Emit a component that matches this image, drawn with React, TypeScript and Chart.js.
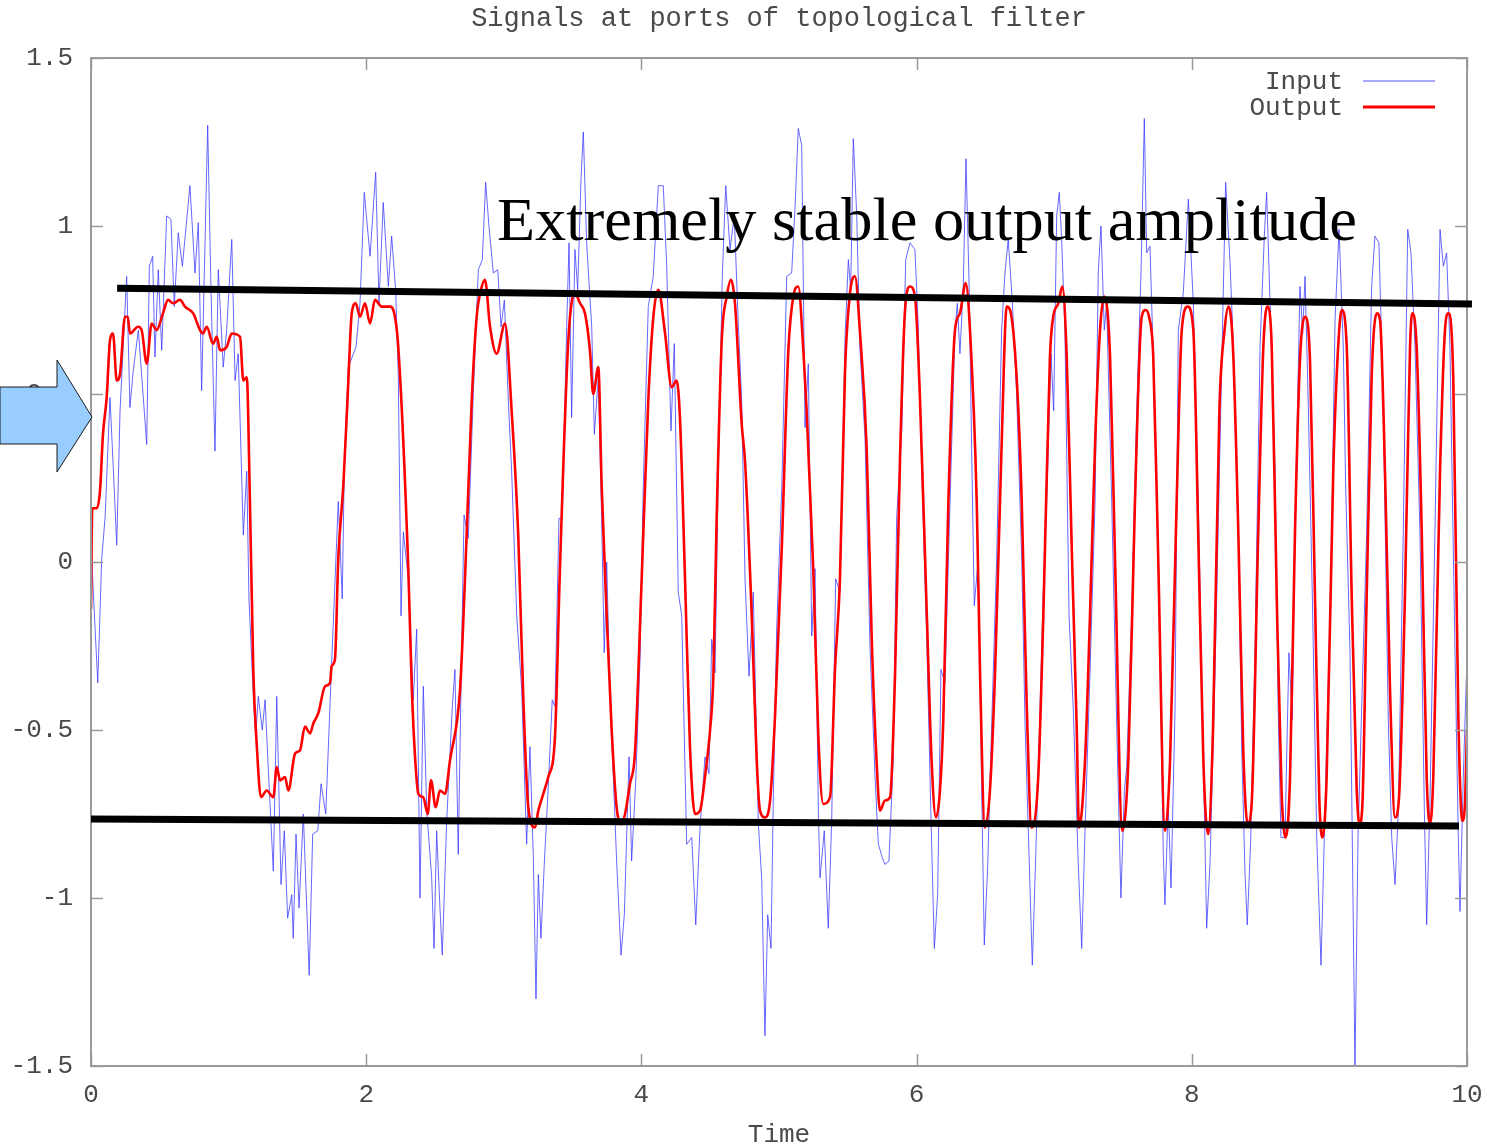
import React, { useEffect, useRef } from "react";
import { Chart, registerables } from "chart.js";

Chart.register(...registerables);

const W = 1487;
const H = 1147;

const chartTitle = "Signals at ports of topological filter";
const xAxisTitle = "Time";
const annotationText = "Extremely stable output amplitude";
const seriesLabels = ["Input", "Output"];
const xTicks = [0, 2, 4, 6, 8, 10];
const yTicks = [-1.5, -1, -0.5, 0, 0.5, 1, 1.5];

// [time, value]
const outputSignal: [number, number][] = [
  [0.000,-0.14],[0.009,0.16],[0.041,0.16],[0.065,0.21],[0.087,0.38],[0.114,0.49],[0.138,0.66],[0.160,0.68],[0.187,0.54],[0.211,0.56],
  [0.247,0.73],[0.267,0.73],[0.283,0.68],[0.342,0.70],[0.368,0.69],[0.405,0.59],[0.441,0.71],[0.477,0.69],[0.523,0.74],[0.560,0.78],
  [0.596,0.77],[0.647,0.78],[0.683,0.76],[0.743,0.74],[0.792,0.69],[0.814,0.68],[0.841,0.70],[0.887,0.65],[0.914,0.67],[0.938,0.63],
  [0.986,0.64],[1.023,0.68],[1.083,0.67],[1.107,0.54],[1.132,0.55],[1.155,0.18],[1.180,-0.33],[1.204,-0.54],[1.235,-0.70],[1.277,-0.68],
  [1.325,-0.70],[1.350,-0.61],[1.374,-0.65],[1.410,-0.64],[1.434,-0.68],[1.483,-0.57],[1.519,-0.56],[1.555,-0.49],[1.592,-0.51],[1.616,-0.48],
  [1.652,-0.45],[1.701,-0.37],[1.737,-0.36],[1.749,-0.31],[1.773,-0.29],[1.797,0.01],[1.834,0.23],[1.866,0.50],[1.895,0.74],[1.924,0.77],
  [1.955,0.73],[1.991,0.77],[2.028,0.71],[2.064,0.78],[2.113,0.76],[2.173,0.76],[2.197,0.75],[2.233,0.64],[2.306,-0.02],[2.331,-0.37],
  [2.355,-0.58],[2.379,-0.69],[2.415,-0.70],[2.447,-0.75],[2.471,-0.65],[2.505,-0.73],[2.536,-0.68],[2.573,-0.69],[2.609,-0.59],[2.682,-0.38],
  [2.718,-0.05],[2.767,0.48],[2.803,0.73],[2.834,0.81],[2.863,0.84],[2.900,0.70],[2.948,0.62],[3.009,0.71],[3.057,0.45],[3.105,0.08],
  [3.142,-0.41],[3.178,-0.73],[3.227,-0.79],[3.251,-0.74],[3.287,-0.69],[3.323,-0.64],[3.372,-0.52],[3.408,-0.02],[3.469,0.66],[3.517,0.80],
  [3.554,0.77],[3.590,0.74],[3.626,0.63],[3.650,0.50],[3.687,0.58],[3.711,0.23],[3.748,-0.16],[3.784,-0.50],[3.820,-0.73],[3.857,-0.78],
  [3.881,-0.75],[3.917,-0.66],[3.953,-0.57],[4.002,-0.05],[4.050,0.48],[4.087,0.73],[4.123,0.81],[4.172,0.68],[4.220,0.52],[4.256,0.54],
  [4.280,0.43],[4.317,-0.05],[4.353,-0.55],[4.390,-0.75],[4.426,-0.74],[4.462,-0.64],[4.499,-0.50],[4.523,-0.34],[4.547,0.13],[4.584,0.66],
  [4.620,0.79],[4.651,0.84],[4.680,0.77],[4.729,0.41],[4.753,0.30],[4.802,-0.16],[4.838,-0.59],[4.862,-0.74],[4.898,-0.76],[4.935,-0.71],
  [4.971,-0.46],[5.020,0.04],[5.068,0.63],[5.104,0.79],[5.140,0.82],[5.177,0.63],[5.201,0.45],[5.249,-0.02],[5.286,-0.52],[5.322,-0.72],
  [5.371,-0.70],[5.407,-0.32],[5.443,-0.05],[5.480,0.57],[5.516,0.80],[5.552,0.85],[5.589,0.68],[5.637,0.34],[5.674,-0.23],[5.710,-0.60],
  [5.734,-0.74],[5.770,-0.71],[5.807,-0.70],[5.843,-0.34],[5.879,0.30],[5.916,0.75],[5.952,0.82],[5.988,0.79],[6.025,0.48],[6.073,-0.14],
  [6.110,-0.60],[6.141,-0.76],[6.170,-0.68],[6.194,-0.47],[6.231,0.18],[6.279,0.69],[6.315,0.74],[6.357,0.83],[6.388,0.69],[6.437,0.18],
  [6.461,-0.33],[6.497,-0.79],[6.533,-0.68],[6.570,-0.33],[6.618,0.35],[6.655,0.76],[6.679,0.75],[6.727,0.55],[6.764,0.18],[6.800,-0.42],
  [6.836,-0.79],[6.884,-0.64],[6.921,-0.16],[6.969,0.61],[6.993,0.73],[7.030,0.77],[7.059,0.82],[7.091,0.61],[7.127,0.05],[7.164,-0.50],
  [7.180,-0.79],[7.224,-0.59],[7.260,-0.16],[7.297,0.35],[7.333,0.69],[7.364,0.79],[7.406,0.61],[7.442,0.01],[7.495,-0.80],[7.539,-0.59],
  [7.587,0.18],[7.636,0.73],[7.665,0.75],[7.689,0.73],[7.720,0.61],[7.756,0.01],[7.805,-0.80],[7.842,-0.59],[7.890,0.18],[7.927,0.69],
  [7.970,0.76],[8.011,0.69],[8.047,0.08],[8.084,-0.59],[8.118,-0.81],[8.154,-0.50],[8.201,0.46],[8.238,0.69],[8.266,0.76],[8.299,0.64],
  [8.338,0.09],[8.374,-0.56],[8.406,-0.78],[8.435,-0.72],[8.483,0.09],[8.520,0.64],[8.549,0.76],[8.581,0.64],[8.617,-0.10],[8.653,-0.69],
  [8.682,-0.82],[8.714,-0.64],[8.750,0.09],[8.786,0.60],[8.823,0.73],[8.859,0.60],[8.895,-0.10],[8.927,-0.71],[8.949,-0.82],[8.980,-0.64],
  [9.028,0.27],[9.065,0.65],[9.090,0.75],[9.126,0.64],[9.162,-0.10],[9.198,-0.67],[9.219,-0.78],[9.240,-0.72],[9.271,-0.10],[9.307,0.55],
  [9.344,0.74],[9.368,0.72],[9.404,0.27],[9.440,-0.37],[9.477,-0.76],[9.506,-0.70],[9.549,-0.10],[9.586,0.64],[9.602,0.74],[9.634,0.64],
  [9.671,0.09],[9.707,-0.64],[9.731,-0.78],[9.755,-0.64],[9.804,0.27],[9.840,0.69],[9.864,0.74],[9.900,0.55],[9.937,-0.46],[9.966,-0.77],
  [9.985,-0.72],[10.000,-0.50],
];

// [time, value]
const inputSignal: [number, number][] = [
  [0.005,0.01],[0.049,-0.36],[0.078,0.01],[0.102,0.13],[0.138,0.49],[0.162,0.28],[0.187,0.05],[0.211,0.45],[0.259,0.85],[0.283,0.46],
  [0.307,0.57],[0.344,0.69],[0.405,0.35],[0.424,0.88],[0.448,0.91],[0.465,0.61],[0.489,0.87],[0.514,0.63],[0.550,1.03],[0.581,1.02],
  [0.605,0.76],[0.634,0.98],[0.664,0.88],[0.719,1.12],[0.756,0.86],[0.780,1.01],[0.804,0.51],[0.848,1.30],[0.872,0.81],[0.901,0.33],
  [0.925,0.87],[0.961,0.58],[0.986,0.69],[1.023,0.96],[1.047,0.54],[1.070,0.62],[1.107,0.08],[1.132,0.27],[1.148,-0.11],[1.180,-0.40],
  [1.197,-0.52],[1.216,-0.40],[1.245,-0.50],[1.265,-0.41],[1.289,-0.62],[1.325,-0.92],[1.350,-0.40],[1.381,-0.96],[1.405,-0.80],[1.429,-1.06],
  [1.459,-0.99],[1.470,-1.12],[1.490,-0.81],[1.512,-1.03],[1.543,-0.75],[1.586,-1.23],[1.611,-0.81],[1.648,-0.80],[1.672,-0.66],[1.706,-0.75],
  [1.749,-0.30],[1.797,0.18],[1.826,-0.11],[1.841,0.29],[1.870,0.58],[1.926,0.64],[1.955,0.77],[1.986,1.10],[2.028,0.91],[2.069,1.16],
  [2.093,0.77],[2.124,1.07],[2.161,0.82],[2.185,0.97],[2.214,0.81],[2.233,0.56],[2.246,0.11],[2.253,-0.16],[2.270,0.09],[2.306,-0.05],
  [2.342,-0.41],[2.367,-0.20],[2.391,-1.00],[2.415,-0.37],[2.440,-0.74],[2.476,-0.94],[2.493,-1.15],[2.512,-0.80],[2.536,-1.03],[2.553,-1.17],
  [2.585,-0.77],[2.626,-0.43],[2.645,-0.32],[2.669,-0.87],[2.694,-0.25],[2.711,0.14],[2.742,0.07],[2.778,0.50],[2.815,0.87],[2.844,0.90],
  [2.868,1.13],[2.892,1.00],[2.924,0.86],[2.956,0.87],[2.980,0.70],[3.004,0.78],[3.033,0.48],[3.057,0.27],[3.094,-0.16],[3.130,-0.38],
  [3.166,-0.84],[3.190,-0.55],[3.214,-0.87],[3.234,-1.30],[3.251,-0.93],[3.270,-1.12],[3.294,-0.90],[3.323,-0.67],[3.352,-0.41],[3.372,-0.43],
  [3.401,0.13],[3.425,0.13],[3.457,0.70],[3.474,0.95],[3.493,0.43],[3.517,0.93],[3.537,0.81],[3.561,1.14],[3.578,1.28],[3.602,0.95],
  [3.639,0.70],[3.658,0.38],[3.687,0.55],[3.711,0.13],[3.730,-0.27],[3.748,0.00],[3.772,-0.41],[3.796,-0.64],[3.820,-0.89],[3.852,-1.17],
  [3.876,-1.05],[3.910,-0.58],[3.929,-0.89],[3.959,-0.65],[3.990,-0.29],[4.014,0.23],[4.050,0.76],[4.086,0.85],[4.123,1.12],[4.159,1.12],
  [4.184,0.88],[4.215,0.39],[4.239,0.65],[4.268,-0.09],[4.293,-0.16],[4.329,-0.84],[4.366,-0.82],[4.395,-1.08],[4.426,-0.79],[4.462,-0.58],
  [4.491,-0.63],[4.511,-0.23],[4.535,-0.33],[4.559,0.27],[4.588,0.85],[4.613,1.12],[4.644,0.93],[4.675,1.03],[4.704,0.71],[4.729,0.48],
  [4.753,-0.05],[4.782,-0.34],[4.813,-0.09],[4.850,-0.78],[4.874,-0.94],[4.898,-1.41],[4.918,-1.05],[4.942,-1.15],[4.959,-0.69],[4.983,-0.20],
  [5.020,0.22],[5.056,0.85],[5.092,0.86],[5.116,1.05],[5.140,1.29],[5.165,1.24],[5.189,0.40],[5.213,0.59],[5.238,-0.22],[5.262,-0.02],
  [5.286,-0.74],[5.298,-0.94],[5.329,-0.80],[5.358,-1.09],[5.383,-0.77],[5.412,-0.05],[5.443,-0.09],[5.480,0.67],[5.504,0.90],[5.521,0.81],
  [5.540,1.26],[5.565,1.03],[5.589,0.63],[5.625,0.37],[5.661,-0.25],[5.698,-0.64],[5.722,-0.84],[5.751,-0.88],[5.770,-0.90],[5.799,-0.89],
  [5.831,-0.58],[5.855,0.13],[5.892,0.39],[5.921,0.90],[5.952,0.95],[5.988,0.93],[6.012,0.70],[6.037,0.28],[6.073,-0.22],[6.110,-0.85],
  [6.129,-1.15],[6.153,-0.99],[6.177,-0.32],[6.206,-0.36],[6.243,0.18],[6.279,0.69],[6.296,0.77],[6.315,0.62],[6.339,0.82],[6.359,1.20],
  [6.383,0.80],[6.400,0.34],[6.419,-0.13],[6.448,0.01],[6.473,-0.68],[6.492,-1.14],[6.517,-0.90],[6.546,-0.48],[6.582,0.01],[6.618,0.69],
  [6.642,0.86],[6.666,0.96],[6.695,0.78],[6.727,0.50],[6.764,0.01],[6.788,-0.48],[6.817,-0.87],[6.841,-1.20],[6.866,-0.87],[6.897,-0.44],
  [6.921,-0.08],[6.945,0.18],[6.977,0.62],[6.996,0.45],[7.018,1.03],[7.037,1.10],[7.054,0.96],[7.078,0.69],[7.108,-0.16],[7.139,-0.44],
  [7.175,-0.90],[7.200,-1.15],[7.224,-0.80],[7.260,-0.33],[7.297,0.18],[7.320,0.86],[7.340,1.00],[7.364,0.69],[7.381,0.77],[7.418,0.18],
  [7.454,-0.48],[7.485,-1.00],[7.510,-0.68],[7.527,-0.61],[7.563,-0.16],[7.599,0.44],[7.631,0.86],[7.655,1.32],[7.672,0.92],[7.696,0.94],
  [7.720,0.61],[7.756,0.01],[7.793,-0.87],[7.805,-1.02],[7.829,-0.72],[7.849,-0.97],[7.878,-0.44],[7.902,0.69],[7.938,0.80],[7.975,1.08],
  [8.011,0.77],[8.047,0.18],[8.084,-0.59],[8.108,-1.09],[8.132,-0.90],[8.169,-0.33],[8.205,0.35],[8.246,1.13],[8.278,0.89],[8.302,0.64],
  [8.338,0.09],[8.363,-0.56],[8.387,-0.93],[8.403,-1.08],[8.428,-0.83],[8.459,-0.27],[8.496,0.64],[8.527,0.97],[8.544,1.10],[8.568,0.78],
  [8.605,0.27],[8.629,-0.47],[8.648,-0.82],[8.677,-0.82],[8.706,-0.27],[8.730,-0.47],[8.750,0.09],[8.786,0.82],[8.806,0.68],[8.823,0.85],
  [8.847,0.46],[8.876,-0.10],[8.908,-0.82],[8.939,-1.20],[8.963,-0.82],[8.997,-0.27],[9.017,0.09],[9.041,0.72],[9.070,0.99],[9.101,0.64],
  [9.118,0.23],[9.150,-0.27],[9.186,-1.50],[9.208,-0.82],[9.239,-0.37],[9.271,0.09],[9.307,0.82],[9.331,0.97],[9.360,0.95],[9.392,0.46],
  [9.428,-0.47],[9.453,-0.82],[9.477,-0.96],[9.501,-0.74],[9.537,0.09],[9.569,0.99],[9.593,0.92],[9.622,0.64],[9.658,0.09],[9.690,-0.74],
  [9.707,-1.08],[9.731,-0.71],[9.767,0.09],[9.804,0.99],[9.828,0.88],[9.852,0.92],[9.876,0.64],[9.913,-0.27],[9.937,-0.82],[9.949,-1.04],
  [9.973,-0.64],[9.998,-0.31],
];

// hand-drawn envelope lines, [time, value] end points
const upperEnvelope: [number, number][] = [[0.19, 0.815], [10.036, 0.768]];
const lowerEnvelope: [number, number][] = [[0.0, -0.765], [9.942, -0.786]];

const MONO = "'Liberation Mono', 'DejaVu Sans Mono', monospace";
const SERIF = "'Liberation Serif', 'DejaVu Serif', serif";
const TEXT_COLOR = "#4a4a4a";
const FRAME_COLOR = "#9a9a9a";
const INPUT_COLOR = "rgba(60,60,255,0.78)";
const OUTPUT_COLOR = "#ff0000";

const overlayPlugin = {
  id: "overlay",
  afterDraw(chart: any) {
    const { ctx, chartArea: a, scales } = chart;
    const xs = scales.x;
    const ys = scales.y;
    ctx.save();

    // frame
    ctx.strokeStyle = FRAME_COLOR;
    ctx.lineWidth = 2;
    ctx.strokeRect(a.left, a.top, a.right - a.left, a.bottom - a.top);

    // inward ticks on all sides (gnuplot style)
    ctx.lineWidth = 1.5;
    const tl = 12;
    ctx.beginPath();
    for (const t of xTicks) {
      const px = Math.round(xs.getPixelForValue(t)) + 0.5;
      ctx.moveTo(px, a.bottom);
      ctx.lineTo(px, a.bottom - tl);
      ctx.moveTo(px, a.top);
      ctx.lineTo(px, a.top + tl);
    }
    for (const v of yTicks) {
      const py = Math.round(ys.getPixelForValue(v)) + 0.5;
      ctx.moveTo(a.left, py);
      ctx.lineTo(a.left + tl, py);
      ctx.moveTo(a.right, py);
      ctx.lineTo(a.right - tl, py);
    }
    ctx.stroke();

    // title and x-axis title
    const cx = (a.left + a.right) / 2;
    ctx.fillStyle = TEXT_COLOR;
    ctx.textAlign = "center";
    ctx.textBaseline = "middle";
    ctx.font = `27px ${MONO}`;
    ctx.fillText(chartTitle, cx, 19);
    ctx.font = `26px ${MONO}`;
    ctx.fillText(xAxisTitle, cx, 1135);

    // legend
    const ds = chart.data.datasets;
    ctx.font = `26px ${MONO}`;
    ctx.textAlign = "right";
    const legendY = [82, 108];
    ds.forEach((d: any, i: number) => {
      ctx.fillStyle = TEXT_COLOR;
      ctx.fillText(d.label, a.right - 124, legendY[i]);
      ctx.strokeStyle = i === 0 ? "rgba(100,100,255,0.75)" : d.borderColor;
      ctx.lineWidth = i === 0 ? 1.6 : 3;
      ctx.beginPath();
      ctx.moveTo(a.right - 104, legendY[i] - 1);
      ctx.lineTo(a.right - 32, legendY[i] - 1);
      ctx.stroke();
    });

    // envelope lines
    ctx.strokeStyle = "#000";
    ctx.lineWidth = 7;
    ctx.lineCap = "butt";
    for (const seg of [upperEnvelope, lowerEnvelope]) {
      ctx.beginPath();
      ctx.moveTo(xs.getPixelForValue(seg[0][0]), ys.getPixelForValue(seg[0][1]));
      ctx.lineTo(xs.getPixelForValue(seg[1][0]), ys.getPixelForValue(seg[1][1]));
      ctx.stroke();
    }

    // annotation text
    ctx.fillStyle = "#000";
    ctx.textAlign = "left";
    ctx.textBaseline = "alphabetic";
    let fs = 62;
    ctx.font = `${fs}px ${SERIF}`;
    const w = ctx.measureText(annotationText).width;
    fs = (fs * 860) / w;
    ctx.font = `${fs}px ${SERIF}`;
    ctx.fillText(annotationText, 497, 240);

    // arrow pointing at the input
    ctx.beginPath();
    ctx.moveTo(0, 387);
    ctx.lineTo(57, 387);
    ctx.lineTo(57, 360);
    ctx.lineTo(92, 417);
    ctx.lineTo(57, 472);
    ctx.lineTo(57, 444);
    ctx.lineTo(0, 444);
    ctx.closePath();
    ctx.fillStyle = "#99ccff";
    ctx.fill();
    ctx.strokeStyle = "#1a1a1a";
    ctx.lineWidth = 1;
    ctx.stroke();

    ctx.restore();
  },
};

export default function App() {
  const ref = useRef<HTMLCanvasElement | null>(null);

  useEffect(() => {
    if (!ref.current) return;
    const chart = new Chart(ref.current, {
      type: "line",
      data: {
        datasets: [
          {
            label: seriesLabels[0],
            data: inputSignal.map(([x, y]) => ({ x, y })),
            borderColor: INPUT_COLOR,
            borderWidth: 1,
            pointRadius: 0,
            tension: 0,
            fill: false,
            order: 2,
          },
          {
            label: seriesLabels[1],
            data: outputSignal.map(([x, y]) => ({ x, y })),
            borderColor: OUTPUT_COLOR,
            borderWidth: 2.6,
            pointRadius: 0,
            cubicInterpolationMode: "monotone",
            fill: false,
            order: 1,
          },
        ],
      },
      options: {
        animation: false,
        responsive: false,
        maintainAspectRatio: false,
        layout: { padding: { left: 0, right: 20, top: 58, bottom: 0 } },
        plugins: {
          legend: { display: false },
          title: { display: false },
          tooltip: { enabled: false },
        },
        scales: {
          x: {
            type: "linear",
            min: 0,
            max: 10,
            afterBuildTicks: (s: any) => {
              s.ticks = xTicks.map((v) => ({ value: v }));
            },
            afterFit: (s: any) => {
              s.height = 81;
              s.paddingLeft = 0;
              s.paddingRight = 0;
            },
            ticks: {
              autoSkip: false,
              maxRotation: 0,
              padding: 14,
              color: TEXT_COLOR,
              font: { family: MONO, size: 26 },
              callback: (v: any) => String(v),
            },
            grid: { display: false, drawTicks: false },
            border: { display: false },
          },
          y: {
            type: "linear",
            min: -1.5,
            max: 1.5,
            afterBuildTicks: (s: any) => {
              s.ticks = yTicks.map((v) => ({ value: v }));
            },
            afterFit: (s: any) => {
              s.width = 91;
              s.paddingTop = 0;
              s.paddingBottom = 0;
            },
            ticks: {
              autoSkip: false,
              padding: 18,
              color: TEXT_COLOR,
              font: { family: MONO, size: 26 },
              callback: (v: any) => String(v),
            },
            grid: { display: false, drawTicks: false },
            border: { display: false },
          },
        },
      },
      plugins: [overlayPlugin],
    } as any);
    return () => chart.destroy();
  }, []);

  return (
    <div style={{ position: "absolute", left: 0, top: 0, width: W, height: H, background: "#fff" }}>
      <canvas ref={ref} width={W} height={H} style={{ display: "block", width: W, height: H }} />
    </div>
  );
}
